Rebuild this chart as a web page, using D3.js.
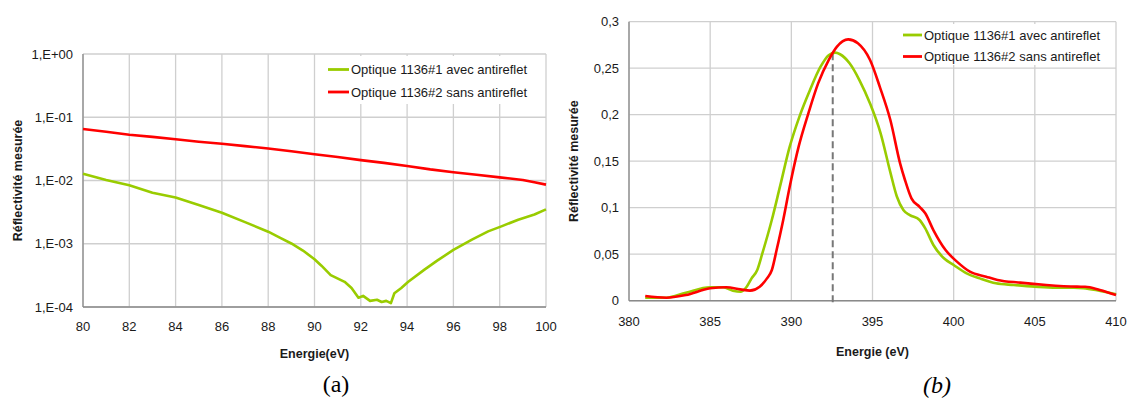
<!DOCTYPE html>
<html>
<head>
<meta charset="utf-8">
<script src="https://cdn.jsdelivr.net/npm/d3@7"></script>
<style>
  html, body { margin: 0; padding: 0; background: #fff; }
  svg { display: block; font-family: "Liberation Sans", Arial, sans-serif; }
</style>
</head>
<body>
<svg id="chart" width="1131" height="399"></svg>
<script>
// ---------- DATA ----------
// Chart (a) : log scale
const aTicksX = [80, 82, 84, 86, 88, 90, 92, 94, 96, 98, 100];
const aTicksY = [1e-4, 1e-3, 1e-2, 1e-1, 1];
const aTickLabelsY = ["1,E-04", "1,E-03", "1,E-02", "1,E-01", "1,E+00"];

const aRedX = [80, 81, 82, 83, 84, 85, 86, 87, 88, 89, 90, 91, 92, 93, 94, 95, 96, 97, 98, 99, 99.5, 100];
const aRedY = [0.065, 0.059, 0.053, 0.049, 0.045, 0.041, 0.038, 0.035, 0.032, 0.029, 0.026, 0.0235, 0.021, 0.019, 0.017, 0.015, 0.0135, 0.0123, 0.0112, 0.0102, 0.0094, 0.0086];

const aGreenX = [80, 81, 82, 83, 84, 85, 86, 87, 88, 88.5, 89, 89.5, 90, 90.3, 90.7, 91.3, 91.6, 91.9, 92.1, 92.4, 92.7, 92.9, 93.1, 93.3, 93.45, 93.75, 94.05, 94.75, 95.3, 96, 96.8, 97.5, 98.1, 98.8, 99.5, 100];
const aGreenY = [0.0128, 0.0102, 0.0084, 0.0064, 0.0054, 0.0041, 0.0031, 0.0022, 0.00155, 0.00125, 0.00101, 0.00078, 0.00057, 0.00045, 0.00032, 0.00025, 0.0002, 0.00014, 0.00015, 0.000125, 0.00013, 0.00012, 0.000125, 0.000115, 0.000165, 0.0002, 0.00025, 0.00039, 0.00054, 0.0008, 0.00116, 0.00157, 0.0019, 0.0024, 0.0029, 0.0035];

// Chart (b) : linear scale
const bTicksX = [380, 385, 390, 395, 400, 405, 410];
const bTicksY = [0, 0.05, 0.1, 0.15, 0.2, 0.25, 0.3];
const bTickLabelsY = ["0", "0,05", "0,1", "0,15", "0,2", "0,25", "0,3"];

const bGreenX = [381, 382.3, 383.5, 385, 385.8, 386.4, 386.9, 387.25, 387.55, 387.9, 388.2, 388.8, 389.3, 389.9, 390.5, 391.15, 391.8, 392.3, 392.7, 393, 393.6, 394.2, 394.85, 395.5, 396.1, 396.5, 396.9, 397.3, 397.9, 398.25, 398.75, 399.4, 400, 400.8, 401.6, 402.6, 403.7, 405, 406.3, 407.4, 408, 408.9, 410];
const bGreenY = [0.0032, 0.0032, 0.0086, 0.0144, 0.0144, 0.0108, 0.0097, 0.015, 0.024, 0.033, 0.05, 0.087, 0.1226, 0.1656, 0.198, 0.2266, 0.2516, 0.264, 0.2667, 0.265, 0.255, 0.237, 0.212, 0.18, 0.138, 0.112, 0.0975, 0.0921, 0.0868, 0.0778, 0.0599, 0.0456, 0.0384, 0.0294, 0.024, 0.0187, 0.0169, 0.0151, 0.014, 0.014, 0.0135, 0.011, 0.007];

const bRedX = [381, 382.3, 383.5, 385, 386, 386.85, 387.45, 388.05, 388.5, 388.8, 389.1, 389.5, 389.9, 390.45, 391.05, 391.65, 392.3, 392.8, 393.5, 394.1, 394.85, 395.45, 396.1, 396.7, 397, 397.4, 397.9, 398.25, 398.75, 399.5, 400.2, 401, 402, 402.7, 404.1, 405.7, 407.6, 408.1, 409, 410];
const bRedY = [0.005, 0.0032, 0.0061, 0.0133, 0.0144, 0.0122, 0.0108, 0.015, 0.024, 0.033, 0.055, 0.0868, 0.1226, 0.1656, 0.2015, 0.2337, 0.2588, 0.273, 0.281, 0.2768, 0.2588, 0.23, 0.1943, 0.1477, 0.1298, 0.11, 0.101, 0.094, 0.076, 0.0545, 0.042, 0.0312, 0.0258, 0.0223, 0.0194, 0.0169, 0.0151, 0.015, 0.0115, 0.006];

const markerX = 392.55;
const markerY = 0.266;

const seriesNames = ["Optique 1136#1 avec antireflet", "Optique 1136#2 sans antireflet"];
const seriesColors = ["#99cc00", "#ff0000"];

// ---------- DRAWING ----------
const svg = d3.select("#chart");
svg.append("rect").attr("width", 1131).attr("height", 399).attr("fill", "#fff");

const GRID = "#cfcfcf", AXIS = "#8a8a8a", TXT = "#1a1a1a";

function zip(xs, ys) { return xs.map((x, i) => ({ x: x, y: ys[i] })); }

function drawPanel(cfg) {
  const g = svg.append("g");
  const x = cfg.x, y = cfg.y;
  const [x0, x1] = x.range(), [y0, y1] = y.range(); // y0 bottom, y1 top

  // vertical grid
  g.append("g").selectAll("line").data(cfg.ticksX).join("line")
    .attr("x1", d => x(d)).attr("x2", d => x(d))
    .attr("y1", y0).attr("y2", y1)
    .attr("stroke", GRID).attr("stroke-width", 1.3);
  // horizontal grid
  g.append("g").selectAll("line").data(cfg.ticksY).join("line")
    .attr("x1", x0).attr("x2", x1)
    .attr("y1", d => y(d)).attr("y2", d => y(d))
    .attr("stroke", GRID).attr("stroke-width", 1.3);

  // legend background (hides grid)
  const lg = cfg.legend;
  g.append("rect").attr("x", lg.bx).attr("y", lg.by).attr("width", lg.bw).attr("height", lg.bh)
    .attr("fill", "#fff");

  // axes lines
  g.append("line").attr("x1", x0).attr("x2", x0).attr("y1", y0).attr("y2", y1)
    .attr("stroke", AXIS).attr("stroke-width", 1.3);
  g.append("line").attr("x1", x0).attr("x2", x1).attr("y1", y0).attr("y2", y0)
    .attr("stroke", AXIS).attr("stroke-width", 1.5);

  // tick labels
  g.append("g").selectAll("text").data(cfg.ticksX).join("text")
    .attr("x", d => x(d)).attr("y", y0 + cfg.xLabelDy)
    .attr("text-anchor", "middle").attr("font-size", 13).attr("fill", TXT)
    .text(d => d);
  g.append("g").selectAll("text").data(cfg.ticksY).join("text")
    .attr("x", x0 - 10).attr("y", d => y(d)).attr("dy", "0.35em")
    .attr("text-anchor", "end").attr("font-size", 13).attr("fill", TXT)
    .text((d, i) => cfg.labelsY[i]);

  // axis titles
  g.append("text").attr("x", (x0 + x1) / 2).attr("y", cfg.xTitleY)
    .attr("text-anchor", "middle").attr("font-size", 12.5).attr("font-weight", "bold").attr("fill", TXT)
    .text(cfg.xTitle);
  g.append("text").attr("transform", `translate(${cfg.yTitleX},${(y0 + y1) / 2}) rotate(-90)`)
    .attr("text-anchor", "middle").attr("dy", "0.35em").attr("font-size", 12.5).attr("font-weight", "bold").attr("fill", TXT)
    .text("Réflectivité mesurée");

  // extra (dashed line)
  if (cfg.extra) cfg.extra(g);

  // series
  const line = d3.line().x(d => x(d.x)).y(d => y(d.y)).curve(cfg.curve);
  cfg.series.forEach((s, i) => {
    g.append("path").datum(s).attr("d", line)
      .attr("fill", "none").attr("stroke", seriesColors[i]).attr("stroke-width", 2.6)
      .attr("stroke-linejoin", "round");
  });

  // legend
  seriesNames.forEach((name, i) => {
    const ly = lg.y + i * lg.dy;
    g.append("line").attr("x1", lg.x).attr("x2", lg.x + lg.len).attr("y1", ly).attr("y2", ly)
      .attr("stroke", seriesColors[i]).attr("stroke-width", 2.8);
    g.append("text").attr("x", lg.x + lg.len + 2).attr("y", ly).attr("dy", "0.35em")
      .attr("font-size", 13).attr("fill", TXT).text(name);
  });

  // caption
  svg.append("text").attr("x", cfg.caption.x).attr("y", cfg.caption.y)
    .attr("text-anchor", "middle").attr("font-family", "'Liberation Serif', 'Times New Roman', serif")
    .attr("font-size", 24).attr("font-style", cfg.caption.italic ? "italic" : "normal")
    .attr("fill", "#000").text(cfg.caption.text);
}

// Panel (a)
drawPanel({
  x: d3.scaleLinear().domain([80, 100]).range([83, 546]),
  y: d3.scaleLog().domain([1e-4, 1]).range([307, 54]),
  ticksX: aTicksX, ticksY: aTicksY, labelsY: aTickLabelsY,
  xLabelDy: 24, xTitle: "Energie(eV)", xTitleY: 358, yTitleX: 18,
  curve: d3.curveLinear,
  series: [zip(aGreenX, aGreenY), zip(aRedX, aRedY)],
  legend: { bx: 320, by: 56, bw: 222, bh: 48, x: 328, y: 69.5, dy: 22.5, len: 21 },
  caption: { x: 336, y: 392, text: "(a)", italic: false }
});

// Panel (b)
drawPanel({
  x: d3.scaleLinear().domain([380, 410]).range([629, 1116]),
  y: d3.scaleLinear().domain([0, 0.3]).range([300.7, 21.7]),
  ticksX: bTicksX, ticksY: bTicksY, labelsY: bTickLabelsY,
  xLabelDy: 25, xTitle: "Energie (eV)", xTitleY: 356, yTitleX: 574,
  curve: d3.curveMonotoneX,
  series: [zip(bGreenX, bGreenY), zip(bRedX, bRedY)],
  legend: { bx: 898, by: 24, bw: 214, bh: 41, x: 903, y: 35, dy: 21.5, len: 19 },
  caption: { x: 937, y: 393, text: "(b)", italic: true },
  extra: function (g) {
    const x = d3.scaleLinear().domain([380, 410]).range([629, 1116]);
    const y = d3.scaleLinear().domain([0, 0.3]).range([300.7, 21.7]);
    g.append("line").attr("x1", x(markerX)).attr("x2", x(markerX))
      .attr("y1", y(markerY)).attr("y2", y(0) + 4)
      .attr("stroke", "#777").attr("stroke-width", 2).attr("stroke-dasharray", "7,4");
  }
});
</script>
</body>
</html>
